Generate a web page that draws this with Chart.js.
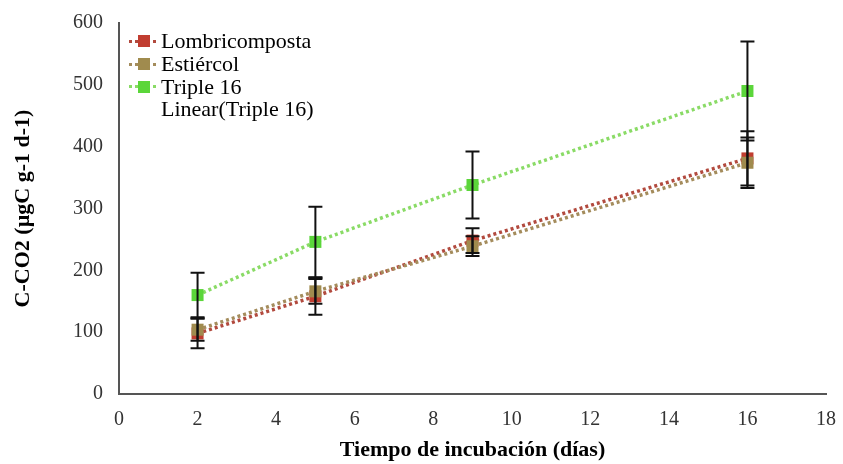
<!DOCTYPE html>
<html><head><meta charset="utf-8">
<script src="https://cdn.jsdelivr.net/npm/chart.js@4.4.1/dist/chart.umd.min.js"></script>
<style>
html,body{margin:0;padding:0;background:#fff;}
#wrap{position:relative;width:843px;height:464px;}
#legend{position:absolute;left:129px;top:30px;font-family:"Liberation Serif",serif;font-size:22px;color:#000;}
.row{display:flex;align-items:center;height:22.7px;white-space:nowrap}
.sw{position:relative;width:30px;height:22px;margin-right:2px;flex:none}
.sw .ln{position:absolute;left:0;width:30px;top:9.5px;height:3px}
.sw .mk{position:absolute;left:9px;top:5px;width:12px;height:12px}
</style></head>
<body>
<div id="wrap">
<canvas id="c" width="843" height="464"></canvas>
<div id="legend"></div>
</div>
<script>
const days = [2, 5, 9, 16];
const seriesNames = ['Lombricomposta', 'Estiércol', 'Triple 16'];
const lombricomposta = [98, 158, 248, 381];
const lombricompostaErr = [24, 30, 20, 44];
const estiercol = [104, 166, 239, 374];
const estiercolErr = [18, 20, 16, 41];
const triple16 = [160, 246, 338, 490];
const triple16Err = [36, 57, 54, 80];
const xTicks = [0, 2, 4, 6, 8, 10, 12, 14, 16, 18];
const yTicks = [0, 100, 200, 300, 400, 500, 600];
const trendLabel = 'Linear(Triple 16)';

const markerColors = ['#C13D30', '#A08B4E', '#5BD63A'];
const lineColors = ['#B24A3E', '#A48C5C', '#8ADB66'];
const values = [lombricomposta, estiercol, triple16];
const errors = [lombricompostaErr, estiercolErr, triple16Err];

const datasets = values.map((v, k) => ({
  label: seriesNames[k],
  data: days.map((d, i) => ({x: d, y: v[i]})),
  borderColor: lineColors[k],
  backgroundColor: markerColors[k],
  pointBackgroundColor: markerColors[k],
  pointBorderColor: markerColors[k],
  pointBorderWidth: 0,
  pointStyle: 'rect',
  pointRadius: 8.5,
  borderWidth: 3.5,
  borderDash: [3, 3],
  borderCapStyle: 'butt',
  tension: 0,
  order: 3 - k
}));

const errPlugin = {
  id: 'errbars',
  afterDatasetsDraw(chart) {
    const {ctx, scales: {x, y}} = chart;
    ctx.save();
    ctx.strokeStyle = '#111';
    ctx.lineWidth = 2;
    values.forEach((v, k) => {
      days.forEach((d, i) => {
        const px = x.getPixelForValue(d);
        const t = y.getPixelForValue(v[i] + errors[k][i]);
        const b = y.getPixelForValue(v[i] - errors[k][i]);
        ctx.beginPath();
        ctx.moveTo(px, t); ctx.lineTo(px, b);
        ctx.moveTo(px - 7, t); ctx.lineTo(px + 7, t);
        ctx.moveTo(px - 7, b); ctx.lineTo(px + 7, b);
        ctx.stroke();
      });
    });
    ctx.restore();
  }
};

const tickFont = {family: 'Liberation Serif', size: 20};
const titleFont = {family: 'Liberation Serif', size: 22, weight: 'bold'};

new Chart(document.getElementById('c'), {
  type: 'line',
  data: {datasets},
  plugins: [errPlugin],
  options: {
    responsive: false,
    animation: false,
    layout: {padding: {top: 23, right: 17, left: 10, bottom: 0}},
    plugins: {legend: {display: false}, tooltip: {enabled: false}},
    scales: {
      x: {
        type: 'linear', min: 0, max: 18,
        afterBuildTicks: s => { s.ticks = xTicks.map(v => ({value: v})); },
        ticks: {font: tickFont, color: '#333', padding: 14, maxRotation: 0, autoSkip: false},
        grid: {display: false, drawTicks: false},
        border: {color: '#555', width: 2},
        title: {display: true, text: 'Tiempo de incubación (días)', font: titleFont, color: '#000', padding: {top: 14, bottom: 0}},
        afterFit: s => { s.height = 70; s.paddingLeft = 0; s.paddingRight = 0; }
      },
      y: {
        type: 'linear', min: 0, max: 600,
        afterBuildTicks: s => { s.ticks = yTicks.map(v => ({value: v})); },
        ticks: {font: tickFont, color: '#333', padding: 16},
        grid: {display: false, drawTicks: false},
        border: {color: '#555', width: 2},
        title: {display: true, text: 'C-CO2 (µgC g-1 d-1)', font: titleFont, color: '#000', padding: {top: 0, bottom: 0}},
        afterFit: s => { s.width = 109; s.paddingTop = 0; s.paddingBottom = 0; }
      }
    }
  }
});

// HTML legend
const lg = document.getElementById('legend');
seriesNames.concat([trendLabel]).forEach((name, k) => {
  const row = document.createElement('div');
  row.className = 'row';
  const sw = document.createElement('div');
  sw.className = 'sw';
  if (k < 3) {
    const ln = document.createElement('div');
    ln.className = 'ln';
    ln.style.background = `repeating-linear-gradient(90deg, ${lineColors[k]} 0 3px, transparent 3px 6px)`;
    const mk = document.createElement('div');
    mk.className = 'mk';
    mk.style.background = markerColors[k];
    sw.appendChild(ln); sw.appendChild(mk);
  }
  row.appendChild(sw);
  const tx = document.createElement('span');
  tx.textContent = name;
  row.appendChild(tx);
  lg.appendChild(row);
});
</script>
</body></html>
